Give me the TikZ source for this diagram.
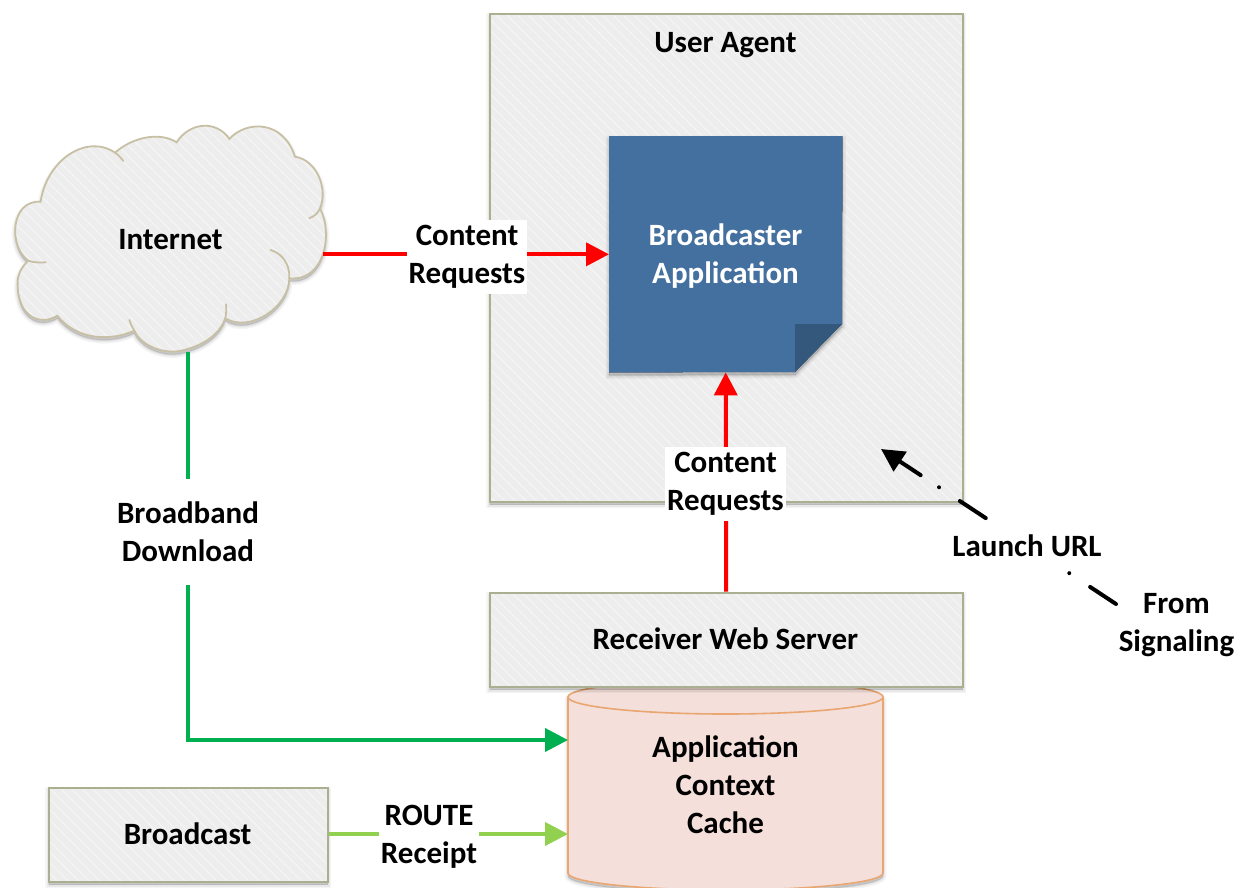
\documentclass[tikz,border=0pt]{standalone}
\usepackage{fontspec}
\setmainfont{Carlito}
\usetikzlibrary{arrows.meta,patterns.meta}
\definecolor{boxfill}{HTML}{EDEDED}
\definecolor{stripe}{HTML}{F4F4F4}
\definecolor{boxline}{HTML}{ABAF8F}
\definecolor{cloudline}{HTML}{C8C0A4}
\definecolor{noteblue}{HTML}{44709F}
\definecolor{notefold}{HTML}{34587C}
\definecolor{cachefill}{HTML}{F4DFDA}
\definecolor{cacheline}{HTML}{E9A671}
\definecolor{dlgreen}{HTML}{00B050}
\definecolor{rtgreen}{HTML}{92D050}
\tikzset{
  softshadow/.style={
    preaction={draw=black,fill=black,opacity=.04,line width=7pt,transform canvas={yshift=-3pt}},
    preaction={draw=black,fill=black,opacity=.05,line width=4pt,transform canvas={yshift=-3pt}},
    preaction={draw=black,fill=black,opacity=.06,line width=1.5pt,transform canvas={yshift=-3pt}}},
  hatched/.style={preaction={fill=boxfill},pattern={Lines[angle=-45,distance=7.5pt,line width=1.3pt]},pattern color=stripe},
  panel/.style={rectangle,softshadow,hatched,draw=boxline,line width=2.4pt,inner sep=0pt,anchor=north west},
  txt/.style={font=\fontsize{31}{38}\selectfont\bfseries,align=center,inner sep=0pt},
  lab/.style={txt,fill=white,inner xsep=2pt,inner ysep=5pt},
  conn/.style={line width=4pt,-{Triangle[length=23pt,width=23pt]}},
  plain/.style={line width=4pt}
}
\begin{document}
\begin{tikzpicture}[x=1pt,y=-1pt]
\useasboundingbox (0,0) rectangle (1242,887);
\fill[white] (0,0) rectangle (1242,887);

% cylinder
\def\cylpath{(568,697) -- (568,873) arc[start angle=180,end angle=0,x radius=157.5,y radius=17] -- (883,697) arc[start angle=0,end angle=-180,x radius=157.5,y radius=17] -- cycle}
\path[softshadow,fill=cachefill] \cylpath;
\draw[cacheline,line width=1.6pt,fill=cachefill] \cylpath;
\draw[cacheline,line width=1.6pt] (568,697) arc[start angle=180,end angle=0,x radius=157.5,y radius=17];

% panels
\node[panel,minimum width=473pt,minimum height=488pt] (agent) at (488.5,12.5) {};
\node[panel,minimum width=473pt,minimum height=94pt] (web) at (488.5,591.5) {};
\node[panel,minimum width=279pt,minimum height=94pt] (bcast) at (47.5,786.5) {};
\node[txt] (agenttxt) at (725.5,45) {User Agent};
\node[txt] (webtxt) at (725.5,639) {Receiver Web Server};
\node[txt] (bcasttxt) at (187.5,834) {Broadcast};
\node[txt] (cachetxt) at (725.5,785) {Application\\Context\\Cache};

% cloud
\begin{scope}[shift={(0,110)},x=.3333pt,y=-.3333pt]
\def\cloudpath{(122,275) .. controls (140,150) and (260,70) .. (345,128)
  .. controls (400,80) and (480,65) .. (530,97)
  .. controls (570,35) and (650,30) .. (688,87)
  .. controls (740,30) and (850,30) .. (885,140)
  .. controls (950,150) and (985,235) .. (960,295)
  .. controls (1000,370) and (975,515) .. (868,505)
  .. controls (868,590) and (750,670) .. (676,625)
  .. controls (650,700) and (550,725) .. (520,725)
  .. controls (470,725) and (420,700) .. (403,662)
  .. controls (330,695) and (230,690) .. (172,617)
  .. controls (120,650) and (50,620) .. (53,515)
  .. controls (53,490) and (70,465) .. (85,452)
  .. controls (25,410) and (30,270) .. (122,275) -- cycle}
\path[softshadow,fill=black] \cloudpath;
\draw[hatched,draw=cloudline,line width=1.8pt] \cloudpath;
\draw[cloudline,line width=1.8pt,line cap=round]
  (345,128) .. controls (355,135) and (362,143) .. (370,153)
  (960,295) .. controls (955,308) and (945,318) .. (928,325)
  (812,420) .. controls (845,430) and (870,460) .. (868,505)
  (678,583) .. controls (680,600) and (678,615) .. (676,625)
  (403,662) .. controls (396,650) and (392,642) .. (388,630)
  (85,452) .. controls (100,458) and (120,458) .. (137,457);
\coordinate (cloudright) at (968,433);
\coordinate (cloudbottom) at (564,725);
\end{scope}
\node[txt] (cloudtxt) at (170.5,240) {Internet};

% note
\node[rectangle,inner sep=0pt,minimum width=233pt,minimum height=236pt,anchor=north west] (app) at (609,136) {};
\def\notepath{(app.north west) -- (app.north east) -- (842,324) -- (795,372) -- (app.south west) -- cycle}
\path[softshadow,fill=black] \notepath;
\fill[noteblue] \notepath;
\fill[notefold] (795,324) -- (842,324) -- (795,372) -- cycle;
\node[txt,text=white] (apptxt) at (725.5,256) {Broadcaster\\Application};

% connectors
\coordinate (cachetop) at (568,740);
\coordinate (cachelow) at (568,834);
\coordinate (sigstart) at (1116,604);
\coordinate (urltip) at (881,449);
\draw[conn,red] (cloudright) -- (app.west |- cloudright);
\draw[conn,red] (web.north) -- (app.south);
\draw[conn,dlgreen] (cloudbottom) -- (cloudbottom |- cachetop) -- (cachetop);
\draw[conn,rtgreen] (bcast.east |- cachelow) -- (cachelow);
\draw[black,line width=4pt,line cap=round,dash pattern=on 31pt off 25pt on 0.01pt off 22pt,-{Triangle[length=23pt,width=23pt]}] (sigstart) -- (urltip);

% labels
\node[lab] (lab1) at (467,257) {Content\\Requests};
\node[lab] (lab2) at (725.5,484) {Content\\Requests};
\node[lab,inner ysep=23pt,inner xsep=0pt] (lab3) at (188,531.5) {Broadband\\Download};
\node[lab] (lab4) at (429,837) {ROUTE\\Receipt};
\node[lab,minimum height=38pt,inner ysep=0pt] (lab5) at (1027,546) {Launch URL};
\node[txt] (lab6) at (1176.5,625) {From\\Signaling};
\end{tikzpicture}
\end{document}
